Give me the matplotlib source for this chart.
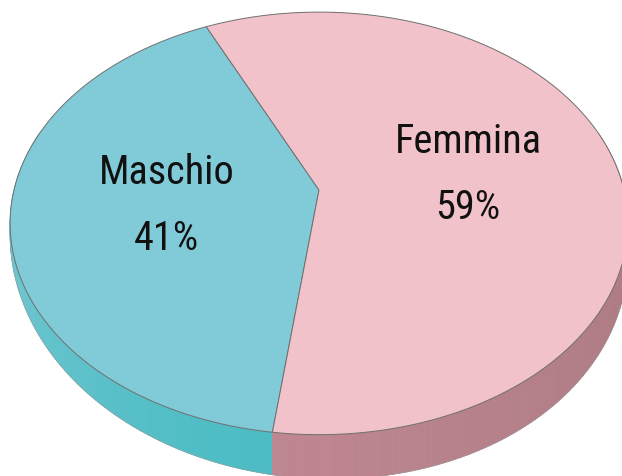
import numpy as np
import matplotlib.pyplot as plt
from matplotlib.colors import to_rgb

labels = ["Maschio", "Femmina"]
values = [41, 59]
pct_labels = ["41%", "59%"]
top_colors = ["#80cbd7", "#f2c2cb"]
side_colors = ["#4cbcc4", "#bd8690"]

W, H = 622, 476
cx, cy = 319, 190      # screen position of the pie centre
R, Rc = 305, 206       # horizontal / vertical radius of the top face
k = 0.158              # perspective strength
start = -25            # deg, measured clockwise from the back of the pie


def project(psi, r=1.0):
    u = r * np.sin(psi)
    w = -r * np.cos(psi)
    s = 1.0 / (1.0 - k * w)
    return cx + R * u * s, cy + Rc * w * s, s


def thickness(psi):
    # seen a bit from the left: thin on the left, thick in front / right
    return np.maximum(17.5 + 11 * np.sin(psi) - 26.6 * np.cos(psi), 0)


fig = plt.figure(figsize=(W / 100, H / 100), dpi=100)
ax = fig.add_axes([0, 0, 1, 1])
ax.set_xlim(0, W)
ax.set_ylim(H, 0)
ax.axis("off")

fracs = np.array(values, dtype=float) / sum(values)
edges = np.radians(start - 360 * np.concatenate([[0], np.cumsum(fracs)]))

# sides first, the top faces cover the hidden back part
for i in range(len(values)):
    psi = np.linspace(edges[i], edges[i + 1], 200)
    psi = psi[np.cos(psi) < 0.3]
    base = np.array(to_rgb(side_colors[i]))
    top = np.array(to_rgb(top_colors[i]))
    for a, b in zip(psi[:-1], psi[1:]):
        xa, ya, _ = project(a)
        xb, yb, _ = project(b)
        u = np.sin((a + b) / 2)
        if u < 0:
            col = base + (top - base) * 0.7 * (-u) ** 2
        else:
            col = base * (1.0 - 0.08 * u)
        ta, tb = thickness(a), thickness(b)
        ax.fill([xa, xb, xb, xa], [ya, yb, yb + tb, ya + ta],
                color=col, lw=0.6, ec=col, zorder=1)
    x, y, _ = project(psi)
    ax.plot(x, y + thickness(psi), color="#9a9a9a", lw=0.4, zorder=2)

for i in range(len(values)):
    psi = np.linspace(edges[i], edges[i + 1], 300)
    x, y, s = project(psi)
    ax.fill(np.r_[cx, x], np.r_[cy, y], color=top_colors[i],
            ec="#6f6f6f", lw=0.7, zorder=3)

    mid = (edges[i] + edges[i + 1]) / 2
    tx, ty, _ = project(mid, 0.5)
    font = dict(family=["Roboto Condensed", "DejaVu Sans"], fontstretch="condensed",
                fontsize=29, ha="center", va="center",
                color="#111111", zorder=5)
    ax.text(tx, ty - 33, labels[i], **font)
    ax.text(tx, ty + 33, pct_labels[i], **font)

fig.savefig("out.png", dpi=100)
